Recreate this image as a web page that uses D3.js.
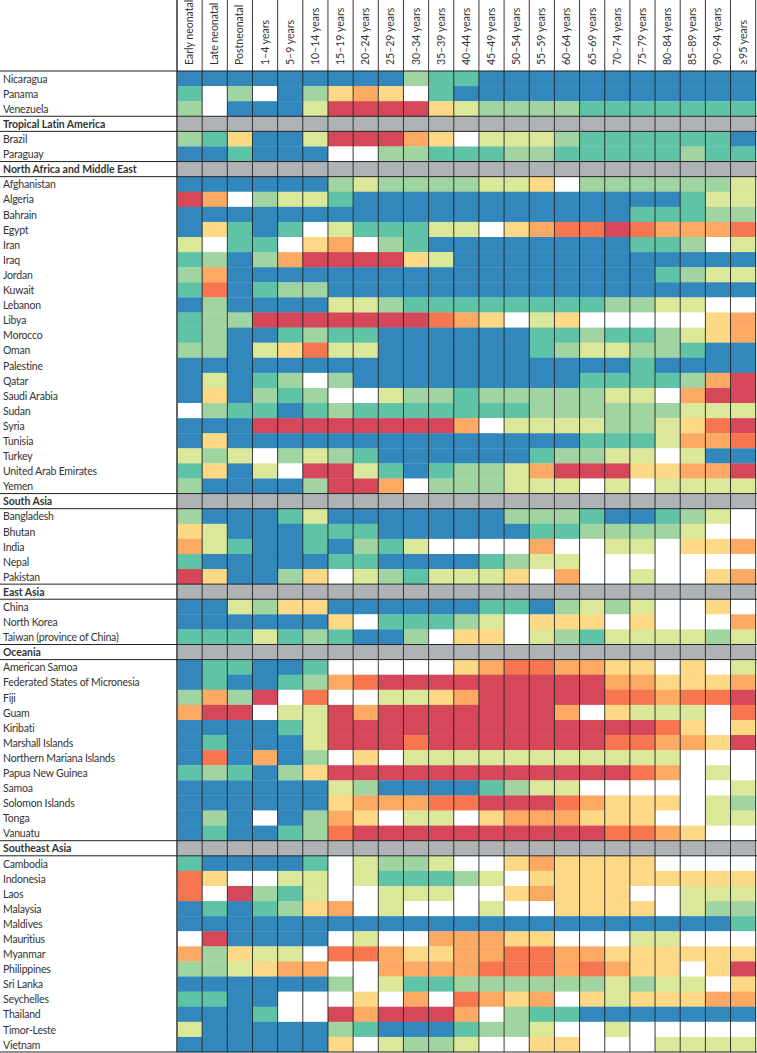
<!DOCTYPE html>
<html>
<head>
<meta charset="utf-8">
<script src="https://cdn.jsdelivr.net/npm/d3@7"></script>
<style>
html, body { margin: 0; padding: 0; background: #fff; }
svg { display: block; }
text { font-family: Lato, "Open Sans", sans-serif; fill: #333; }
</style>
</head>
<body>
<svg id="chart" width="757" height="1053"></svg>
<script>
"use strict";

var ageGroups = ["Early neonatal","Late neonatal","Postneonatal","1–4 years","5–9 years","10–14 years",
  "15–19 years","20–24 years","25–29 years","30–34 years","35–39 years","40–44 years","45–49 years",
  "50–54 years","55–59 years","60–64 years","65–69 years","70–74 years","75–79 years","80–84 years",
  "85–89 years","90–94 years","≥95 years"];

// region rows have no values
var regionNames = ["Tropical Latin America","North Africa and Middle East","South Asia","East Asia","Oceania","Southeast Asia"];

var rowNames = ["Nicaragua","Panama","Venezuela",
  "Tropical Latin America","Brazil","Paraguay",
  "North Africa and Middle East","Afghanistan","Algeria","Bahrain","Egypt","Iran","Iraq","Jordan","Kuwait",
  "Lebanon","Libya","Morocco","Oman","Palestine","Qatar","Saudi Arabia","Sudan","Syria","Tunisia","Turkey",
  "United Arab Emirates","Yemen",
  "South Asia","Bangladesh","Bhutan","India","Nepal","Pakistan",
  "East Asia","China","North Korea","Taiwan (province of China)",
  "Oceania","American Samoa","Federated States of Micronesia","Fiji","Guam","Kiribati","Marshall Islands",
  "Northern Mariana Islands","Papua New Guinea","Samoa","Solomon Islands","Tonga","Vanuatu",
  "Southeast Asia","Cambodia","Indonesia","Laos","Malaysia","Maldives","Mauritius","Myanmar","Philippines",
  "Sri Lanka","Seychelles","Thailand","Timor-Leste","Vietnam"];

// bin of each cell, 0 = lowest (blue), 4 = white, 8 = highest (red)
var centralLatinAmerica = [
  [0,0,0,0,0,0,0,0,0,2,1,1,0,0,0,0,0,0,0,0,0,0,0],
  [1,4,2,4,0,2,5,6,5,4,1,0,0,0,0,0,0,0,0,0,0,0,0],
  [2,4,0,0,0,3,8,8,8,8,5,3,2,2,2,2,1,1,1,1,1,1,1]
];
var tropicalLatinAmerica = [
  [2,1,5,0,0,3,8,8,8,6,5,4,3,3,3,2,1,1,1,1,1,1,0],
  [0,0,1,0,0,0,4,4,2,2,1,1,1,2,2,1,1,1,1,1,2,1,1]
];
var northAfricaMiddleEast = [
  [0,0,0,0,0,0,2,3,2,2,2,2,3,3,5,4,2,2,2,2,2,2,3],
  [8,6,4,2,3,3,1,0,0,0,0,0,0,0,0,0,0,0,0,0,1,3,3],
  [0,0,0,0,0,0,0,0,0,0,0,0,0,0,0,0,0,0,1,1,1,2,2],
  [0,5,1,0,1,4,3,1,1,1,3,3,4,5,6,7,7,8,7,6,6,6,7],
  [3,4,1,1,4,5,6,4,2,1,0,0,0,0,0,0,0,0,1,1,2,4,3],
  [1,2,0,2,6,8,8,8,8,5,3,0,0,0,0,0,0,0,0,0,0,0,0],
  [2,6,0,0,0,0,0,0,0,0,0,0,0,0,0,0,0,0,0,1,2,3,3],
  [1,7,0,1,2,2,0,0,0,0,0,0,0,0,0,0,0,0,0,0,0,0,0],
  [0,2,0,0,0,0,3,3,2,1,1,1,1,1,1,1,1,2,2,3,3,4,4],
  [1,2,2,8,8,8,8,8,8,8,7,6,5,4,3,5,4,4,4,4,4,5,6],
  [1,2,0,0,1,2,1,1,0,0,0,0,0,0,1,1,2,1,1,2,3,5,6],
  [2,2,0,3,5,7,3,3,0,0,0,0,0,0,1,2,3,3,2,2,1,0,0],
  [0,0,0,0,0,0,0,0,0,0,0,0,0,0,0,0,0,0,1,0,0,0,0],
  [0,3,0,1,2,4,2,0,0,0,0,0,0,0,0,0,1,1,1,1,2,6,8],
  [0,5,0,2,1,2,4,4,3,2,2,1,2,2,2,2,2,3,3,4,6,8,8],
  [4,2,1,1,0,1,2,1,1,1,1,1,1,1,2,2,2,2,2,2,3,3,3],
  [0,0,0,8,8,8,8,8,8,8,8,6,4,3,3,3,3,2,2,3,5,7,8],
  [0,5,0,0,0,0,0,0,0,0,0,0,0,0,0,0,1,1,1,3,6,6,7],
  [3,2,3,4,2,3,2,1,0,0,0,0,0,0,1,2,2,3,3,4,3,0,0],
  [1,5,0,3,4,8,8,3,1,0,1,2,2,3,6,8,8,8,5,5,6,6,8],
  [2,0,0,0,0,2,8,8,6,4,2,2,2,3,3,3,4,3,4,3,3,3,3]
];
var southAsia = [
  [2,0,0,0,1,3,0,0,0,0,0,0,0,2,2,2,1,0,0,1,2,3,4],
  [5,3,0,0,0,1,1,1,0,0,0,0,0,0,1,1,2,2,2,2,3,4,4],
  [6,3,1,0,0,1,0,2,1,3,4,4,4,4,6,4,4,3,3,4,5,5,6],
  [1,0,0,0,0,0,1,1,0,0,0,0,1,2,3,3,4,4,4,4,4,4,4],
  [8,5,0,0,2,5,4,3,2,1,3,3,3,5,4,6,4,4,3,4,4,5,6]
];
var eastAsia = [
  [0,0,3,2,5,5,0,0,0,0,0,0,1,1,0,2,3,2,3,4,4,5,4],
  [0,0,0,0,0,0,5,4,1,1,1,2,3,4,5,5,5,4,5,4,4,4,6],
  [1,1,1,3,1,2,1,0,0,2,4,5,5,4,3,2,1,3,3,3,3,2,3]
];
var oceania = [
  [0,1,1,0,0,1,4,4,4,4,4,5,6,7,7,6,6,5,5,4,5,4,3],
  [0,1,0,0,1,2,6,7,8,8,8,8,8,8,8,8,8,6,6,5,5,5,6],
  [2,6,2,8,4,7,4,4,3,3,5,6,8,8,8,8,8,7,7,6,7,7,8],
  [6,8,8,4,3,3,8,6,8,8,8,8,8,8,8,6,4,5,3,3,3,4,7],
  [0,0,0,0,1,3,8,8,8,8,8,8,8,8,8,8,8,8,8,7,5,4,5],
  [0,1,0,0,0,3,8,8,8,7,8,8,8,8,8,8,8,7,7,6,6,5,8],
  [0,7,0,6,0,2,4,5,4,3,3,3,3,3,3,3,3,3,3,3,4,4,4],
  [1,2,1,0,2,5,8,8,8,8,8,8,8,8,8,8,8,8,7,6,4,3,4],
  [0,0,0,0,0,0,3,2,0,0,0,0,1,2,3,3,4,4,4,4,4,4,3],
  [0,0,0,0,0,0,5,6,6,6,7,7,8,8,8,7,6,5,5,5,4,3,2],
  [0,2,0,4,0,2,6,5,4,3,3,4,5,6,6,6,5,5,5,4,4,3,3],
  [0,1,0,0,1,2,7,8,8,8,8,8,8,8,8,8,8,7,7,6,5,4,4]
];
var southeastAsia = [
  [1,0,0,0,0,1,4,3,2,2,3,4,4,5,6,5,5,5,5,4,4,4,4],
  [7,5,4,4,3,3,4,3,1,1,1,2,3,4,5,5,5,5,5,5,5,5,5],
  [7,4,8,2,1,3,4,4,3,3,3,4,4,5,6,5,5,5,4,4,3,3,3],
  [0,1,0,1,2,5,6,4,3,4,4,4,3,4,4,5,5,5,5,4,3,2,2],
  [0,0,0,0,0,0,0,0,0,0,0,0,0,0,0,0,0,0,0,0,0,0,1],
  [4,8,0,0,0,0,4,3,4,4,6,6,6,5,5,4,4,4,3,3,4,4,4],
  [6,2,5,3,3,4,7,7,6,5,5,6,6,7,7,6,6,5,5,5,5,5,5],
  [2,2,3,5,6,6,4,4,6,6,6,6,7,7,7,6,7,6,5,5,4,5,8],
  [0,0,0,0,0,0,2,4,3,1,1,2,2,2,2,2,2,3,2,3,3,4,5],
  [1,1,0,0,4,4,4,5,4,6,4,7,6,5,6,4,5,3,5,5,5,6,6],
  [0,0,0,1,4,4,8,6,8,8,8,6,4,2,1,1,0,0,0,0,0,0,0],
  [3,0,0,0,0,0,2,1,0,0,0,1,2,2,3,4,4,3,4,4,4,4,4],
  [0,0,0,0,0,0,5,4,3,2,2,3,4,4,5,5,4,4,4,3,3,3,3]
];

var binColors = ["#3288bd","#5fc3a8","#a0d4a0","#dbe799","#ffffff","#fdd985","#fca964","#f7754f","#d64759"];

var regionGroups = [centralLatinAmerica, tropicalLatinAmerica, northAfricaMiddleEast, southAsia, eastAsia, oceania, southeastAsia];
var rowValues = {};
var countryRows = rowNames.filter(function(name) { return regionNames.indexOf(name) < 0; });
var allRows = [].concat.apply([], regionGroups);
countryRows.forEach(function(name, i) { rowValues[name] = allRows[i]; });

var svg = d3.select("#chart");

var x = d3.scaleBand().domain(ageGroups).range([177, 755.7]);
var y = d3.scaleBand().domain(rowNames).range([71, 1052]);
var color = d3.scaleOrdinal().domain(d3.range(binColors.length)).range(binColors);

// cells
var cells = [];
countryRows.forEach(function(name) {
  rowValues[name].forEach(function(v, i) {
    cells.push({ row: name, age: ageGroups[i], bin: v });
  });
});

svg.append("g").selectAll("rect")
  .data(cells)
  .enter()
  .append("rect")
  .attr("x", function(d) { return x(d.age); })
  .attr("y", function(d) { return y(d.row); })
  .attr("width", x.bandwidth() + 0.3)
  .attr("height", y.bandwidth() + 0.3)
  .attr("fill", function(d) { return color(d.bin); });

// grey region bands
svg.append("g").selectAll("rect")
  .data(regionNames)
  .enter()
  .append("rect")
  .attr("x", 177)
  .attr("y", function(d) { return y(d); })
  .attr("width", 578.7)
  .attr("height", y.bandwidth())
  .attr("fill", "#b0b3b5");

// column rules run up through the header
svg.append("g").selectAll("line")
  .data(ageGroups)
  .enter()
  .append("line")
  .attr("x1", function(d) { return x(d); })
  .attr("x2", function(d) { return x(d); })
  .attr("y1", 0)
  .attr("y2", 1052)
  .attr("stroke", function(d, i) { return i === 0 ? "#555" : "#222"; })
  .attr("stroke-width", function(d, i) { return i === 0 ? 1.8 : 0.9; });

svg.append("line")
  .attr("x1", 755.7).attr("x2", 755.7)
  .attr("y1", 0).attr("y2", 1052)
  .attr("stroke", "#222")
  .attr("stroke-width", 0.9);

// horizontal rules around the regions, plus top and bottom
var ruleYs = [71, 1052];
regionNames.forEach(function(name) {
  ruleYs.push(y(name));
  ruleYs.push(y(name) + y.bandwidth());
});
svg.append("g").selectAll("line")
  .data(ruleYs)
  .enter()
  .append("line")
  .attr("x1", 0)
  .attr("x2", 757)
  .attr("y1", function(d) { return d; })
  .attr("y2", function(d) { return d; })
  .attr("stroke", "#222")
  .attr("stroke-width", 1);

// column headers
svg.append("g").selectAll("text")
  .data(ageGroups)
  .enter()
  .append("text")
  .attr("transform", function(d) {
    return "translate(" + (x(d) + x.bandwidth() / 2 + 3.5) + ",65) rotate(-90)";
  })
  .style("font-size", "10.5px")
  .text(function(d) { return d; });

// row labels
svg.append("g").selectAll("text")
  .data(rowNames)
  .enter()
  .append("text")
  .attr("x", 3)
  .attr("y", function(d) { return y(d) + y.bandwidth() / 2 + 4.2; })
  .style("font-size", "10.5px")
  .style("letter-spacing", function(d) { return regionNames.indexOf(d) >= 0 ? "-0.05px" : "-0.2px"; })
  .style("font-weight", function(d) { return regionNames.indexOf(d) >= 0 ? "700" : "400"; })
  .text(function(d) { return d; });
</script>
</body>
</html>
